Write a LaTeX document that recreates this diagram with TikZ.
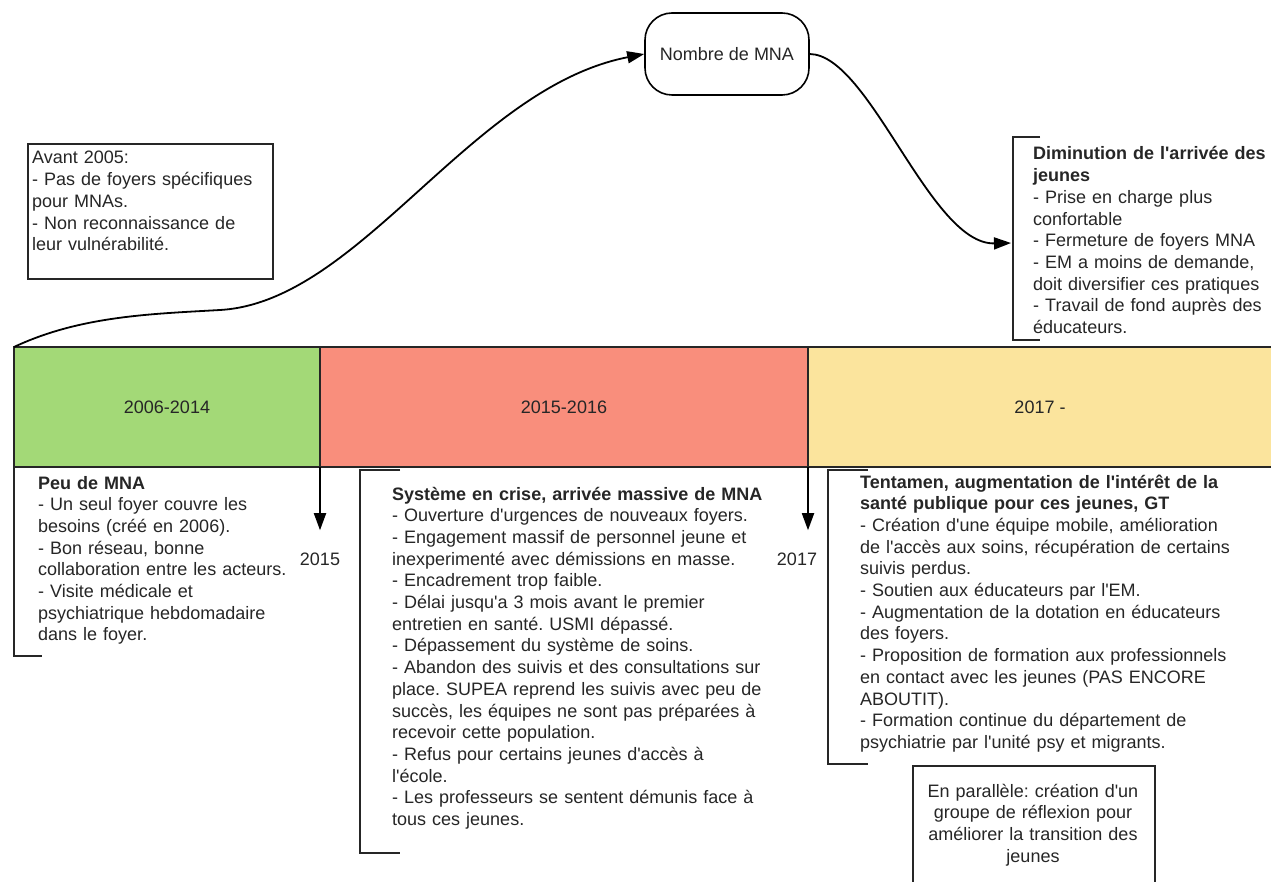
\documentclass[tikz,border=0pt]{standalone}
\usepackage{fontspec}
\setmainfont{Liberation Sans}[Ligatures=TeXOff]
\usetikzlibrary{arrows.meta, positioning}
\definecolor{greenband}{HTML}{A3D977}
\definecolor{redband}{HTML}{F98E7C}
\definecolor{yellowband}{HTML}{FBE49D}
\definecolor{inkgray}{HTML}{262626}
\frenchspacing
\tikzset{
  every node/.style={font=\fontsize{18}{21.7}\selectfont, text=inkgray},
  period/.style={draw=inkgray, line width=1.2pt, minimum height=120pt,
    inner sep=0pt, outer sep=0pt},
  textblock/.style={anchor=base west, align=left, text width=#1, inner sep=0pt},
  frame/.style={draw=black!85, line width=1.6pt, inner sep=0pt},
  bracketline/.style={draw=black!85, line width=1.7pt},
  flow/.style={draw=black, line width=1.8pt, -{Triangle[length=17pt,width=12pt]}},
  yearlabel/.style={anchor=base, inner sep=0pt}
}

\begin{document}
\begin{tikzpicture}[x=1pt,y=-1pt]
  \useasboundingbox (0,0) rectangle (1271,882);
  \clip (0,0) rectangle (1271,882);
  \fill[white] (0,0) rectangle (1271,882);

  % timeline band
  \node[period, fill=greenband, minimum width=306pt, anchor=north west] (p1) at (14,347) {2006-2014};
  \node[period, fill=redband, minimum width=488pt, right=0pt of p1] (p2) {2015-2016};
  \node[period, fill=yellowband, minimum width=464pt, right=0pt of p2] (p3) {2017 -};

  % top
  \node[draw=black, line width=1.6pt, rounded corners=27pt, minimum width=164pt,
    minimum height=82pt, inner sep=0pt] (nombre) at (727,54) {Nombre de MNA};
  \node[frame, anchor=north west, minimum width=245pt, minimum height=135pt] (avant) at (27,143) {};
  \node[textblock=240pt] (avanttxt) at (32,164) {Avant 2005:\\
    - Pas de foyers spécifiques\\
    pour MNAs.\\
    - Non reconnaissance de\\
    leur vulnérabilité.};
  \node[textblock=250pt] (dimtxt) at (1033,160) {\textbf{Diminution de l'arrivée des}\\
    \textbf{jeunes}\\
    - Prise en charge plus\\
    confortable\\
    - Fermeture de foyers MNA\\
    - EM a moins de demande,\\
    doit diversifier ces pratiques\\
    - Travail de fond auprès des\\
    éducateurs.};
  \coordinate (dimtip) at (1011,243);
  \draw[bracketline] (1040,137) -- (1013,137) -- (1013,340) -- (1040,340);

  \draw[flow] (p1.north west) .. controls (80,316) and (150,314) .. (220,310)
    .. controls (360,302) and (470,88) .. (nombre.west);
  \draw[flow] (nombre.east) .. controls (870,55) and (930,245) .. (dimtip);

  % below the band
  \node[yearlabel] (y2015) at (320,565) {2015};
  \node[yearlabel] (y2017) at (797,565) {2017};
  \draw[flow] (p1.south east) -- ([yshift=22pt]y2015.north -| p1.south east);
  \draw[flow] (p2.south east) -- ([yshift=22pt]y2017.north -| p2.south east);

  \node[textblock=270pt] (peutxt) at (38,489) {\textbf{Peu de MNA}\\
    - Un seul foyer couvre les\\
    besoins (créé en 2006).\\
    - Bon réseau, bonne\\
    collaboration entre les acteurs.\\
    - Visite médicale et\\
    psychiatrique hebdomadaire\\
    dans le foyer.};
  \draw[bracketline] (42,467) -- (14,467) -- (14,656) -- (42,656);

  \node[textblock=420pt] (crisetxt) at (392,500) {\textbf{Système en crise, arrivée massive de MNA}\\
    - Ouverture d'urgences de nouveaux foyers.\\
    - Engagement massif de personnel jeune et\\
    inexperimenté avec démissions en masse.\\
    - Encadrement trop faible.\\
    - Délai jusqu'a 3 mois avant le premier\\
    entretien en santé. USMI dépassé.\\
    - Dépassement du système de soins.\\
    - Abandon des suivis et des consultations sur\\
    place. SUPEA reprend les suivis avec peu de\\
    succès, les équipes ne sont pas préparées à\\
    recevoir cette population.\\
    - Refus pour certains jeunes d'accès à\\
    l'école.\\
    - Les professeurs se sentent démunis face à\\
    tous ces jeunes.};
  \draw[bracketline] (400,470) -- (360,470) -- (360,853) -- (400,853);

  \node[textblock=410pt] (tentxt) at (860,488) {\textbf{Tentamen, augmentation de l'intérêt de la}\\
    \textbf{santé publique pour ces jeunes, GT}\\
    - Création d'une équipe mobile, amélioration\\
    de l'accès aux soins, récupération de certains\\
    suivis perdus.\\
    - Soutien aux éducateurs par l'EM.\\
    - Augmentation de la dotation en éducateurs\\
    des foyers.\\
    - Proposition de formation aux professionnels\\
    en contact avec les jeunes (PAS ENCORE\\
    ABOUTIT).\\
    - Formation continue du département de\\
    psychiatrie par l'unité psy et migrants.};
  \draw[bracketline] (868,470) -- (828,470) -- (828,764) -- (868,764);

  \node[frame, anchor=north west, minimum width=242pt, minimum height=150pt] (para) at (912,765) {};
  \node[anchor=base, align=center, text width=240pt, inner sep=0pt] (paratxt) at (1033,797)
    {En parallèle: création d'un\\
    groupe de réflexion pour\\
    améliorer la transition des\\
    jeunes};
\end{tikzpicture}
\end{document}
